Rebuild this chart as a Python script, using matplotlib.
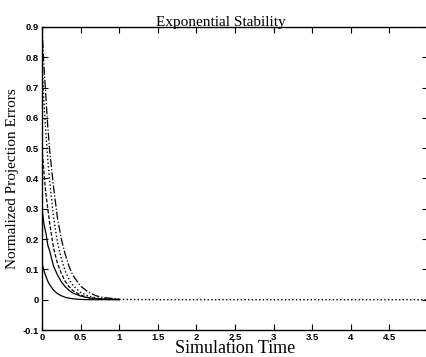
import numpy as np
import matplotlib.pyplot as plt

# tiempos de muestreo y errores
t = [0, 0.025, 0.05, 0.075, 0.1, 0.15, 0.2, 0.25, 0.3, 0.35, 0.4,
     0.5, 0.6, 0.7, 0.8, 1.0, 1.5, 2.0, 3.0, 4.0, 5.0]
err_1 = [0.12, 0.096, 0.077, 0.061, 0.049, 0.031, 0.020, 0.013, 0.008, 0.005, 0.003,
         0.001, 0.0, 0.0, 0.0, 0.0]
err_2 = [0.30, 0.25, 0.22, 0.18, 0.16, 0.11, 0.082, 0.059, 0.043, 0.031, 0.022,
         0.012, 0.006, 0.003, 0.002, 0.0005]
err_3 = [0.50, 0.42, 0.35, 0.30, 0.25, 0.17, 0.12, 0.087, 0.061, 0.043, 0.030,
         0.015, 0.007, 0.004, 0.002, 0.001]
err_4 = [0.78, 0.65, 0.55, 0.46, 0.39, 0.27, 0.19, 0.135, 0.095, 0.067, 0.047,
         0.024, 0.012, 0.006, 0.003, 0.001, 0.0, 0.0, 0.0, 0.0, 0.0]
err_5 = [0.90, 0.77, 0.67, 0.57, 0.49, 0.37, 0.27, 0.20, 0.15, 0.11, 0.08,
         0.045, 0.025, 0.013, 0.007, 0.002]

x_ticks = [0, 0.5, 1, 1.5, 2, 2.5, 3, 3.5, 4, 4.5, 5]
y_ticks = [-0.1, 0, 0.1, 0.2, 0.3, 0.4, 0.5, 0.6, 0.7, 0.8, 0.9]

fig = plt.figure(figsize=(4.27, 3.57), dpi=100)
ax = fig.add_axes([0.0984, 0.0756, 0.904, 0.849])

ax.plot(t[:len(err_1)], err_1, color='black', linestyle='-', linewidth=0.9)
ax.plot(t[:len(err_2)], err_2, color='black', linestyle='-', linewidth=0.9)
ax.plot(t[:len(err_3)], err_3, color='black', linestyle='--', linewidth=0.9, dashes=(3, 1.5))
ax.plot(t[:len(err_5)], err_5, color='black', linestyle='-.', linewidth=0.9)
ax.plot(t, err_4, color='black', linestyle=':', linewidth=1.0)

ax.set_xlim(0, 5)
ax.set_ylim(-0.1, 0.9)
ax.set_xticks(x_ticks)
ax.set_xticklabels([f'{v:g}' for v in x_ticks])
ax.set_yticks(y_ticks)
ax.set_yticklabels([f'{v:g}' for v in y_ticks])
ax.tick_params(direction='in', length=4, width=0.8, labelsize=6.8, pad=2,
               top=True, right=True)
for lbl in ax.get_xticklabels() + ax.get_yticklabels():
    lbl.set_fontweight('bold')
    lbl.set_family('Liberation Sans')
for s in ax.spines.values():
    s.set_linewidth(1.0)

ax.set_title('Exponential Stability', family='Liberation Serif', fontsize=11,
             pad=1, x=0.464)
ax.set_xlabel('Simulation Time', family='Liberation Serif', fontsize=13, labelpad=-1)
ax.set_ylabel('Normalized Projection Errors', family='Liberation Serif', fontsize=11,
              labelpad=3)

fig.savefig('out.png', dpi=100)
